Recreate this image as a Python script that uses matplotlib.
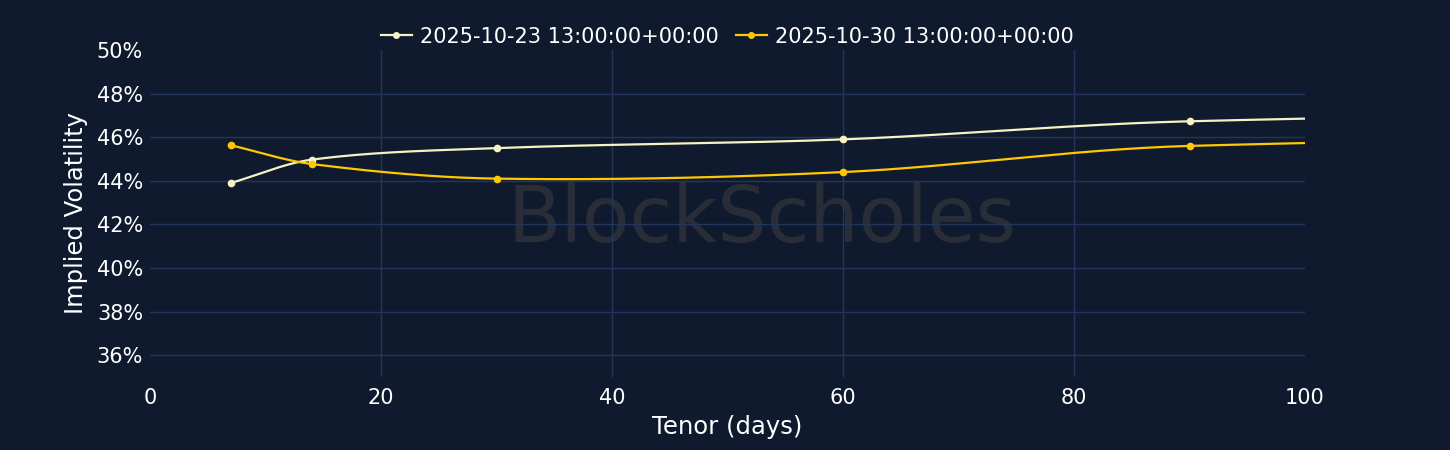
import numpy as np
import matplotlib
matplotlib.use("Agg")
import matplotlib.pyplot as plt
from matplotlib.ticker import FuncFormatter

# Data
tenors = [7, 14, 30, 60, 90, 180]
iv_1023 = [43.9, 44.97, 45.5, 45.9, 46.73, 47.5]
iv_1030 = [45.63, 44.77, 44.1, 44.4, 45.6, 46.2]
labels = ["2025-10-23 13:00:00+00:00", "2025-10-30 13:00:00+00:00"]
colors = ["#f5f3c1", "#ffc800"]

x_ticks = [0, 20, 40, 60, 80, 100]
y_ticks = [36, 38, 40, 42, 44, 46, 48, 50]


def smooth(x, y, n=400):
    x = np.asarray(x, float)
    y = np.asarray(y, float)
    m = np.zeros_like(y)
    m[0] = (y[1] - y[0]) / (x[1] - x[0])
    m[-1] = (y[-1] - y[-2]) / (x[-1] - x[-2])
    m[1:-1] = (y[2:] - y[:-2]) / (x[2:] - x[:-2])
    xs, ys = [], []
    for i in range(len(x) - 1):
        h = x[i + 1] - x[i]
        t = np.linspace(0, 1, n // (len(x) - 1))
        h00 = 2 * t**3 - 3 * t**2 + 1
        h10 = t**3 - 2 * t**2 + t
        h01 = -2 * t**3 + 3 * t**2
        h11 = t**3 - t**2
        xs.append(x[i] + t * h)
        ys.append(h00 * y[i] + h10 * h * m[i] + h01 * y[i + 1] + h11 * h * m[i + 1])
    return np.concatenate(xs), np.concatenate(ys)


bg = "#101a2e"
grid = "#22365c"

fig = plt.figure(figsize=(14.5, 4.5), dpi=100, facecolor=bg)
ax = fig.add_axes([150 / 1450, 1 - 377 / 450, (1305 - 150) / 1450, (377 - 50) / 450])
ax.set_facecolor(bg)

ax.text(0.53, 0.48, "BlockScholes", transform=ax.transAxes, ha="center", va="center",
        fontsize=56, color="#292d37", zorder=0)

ax.set_xlim(0, 100)
ax.set_ylim(35, 50)

for xv in x_ticks:
    if 0 < xv < 100:
        ax.axvline(xv, color=grid, lw=1, zorder=1)
for yv in y_ticks:
    if 35 < yv < 50:
        ax.axhline(yv, color=grid, lw=1, zorder=1)

for s, (vals, lab, c) in enumerate(zip([iv_1023, iv_1030], labels, colors)):
    xs, ys = smooth(tenors, vals)
    ax.plot(xs, ys, color=c, lw=1.6, zorder=3)
    ax.plot(tenors, vals, "o", color=c, ms=4.5, zorder=4)
    ax.plot([], [], "-o", color=c, lw=1.6, ms=4, label=lab)

ax.set_xticks(x_ticks)
ax.set_yticks(y_ticks)
ax.yaxis.set_major_formatter(FuncFormatter(lambda v, p: f"{v:.0f}%"))
for sp in ax.spines.values():
    sp.set_visible(False)
ax.tick_params(colors="white", labelsize=15, length=0)
ax.tick_params(axis="y", pad=5)
ax.tick_params(axis="x", pad=8)
ax.set_xlabel("Tenor (days)", color="white", fontsize=17.5, labelpad=5)
ax.set_ylabel("Implied Volatility", color="white", fontsize=17.5, labelpad=6)

leg = ax.legend(loc="lower center", bbox_to_anchor=(0.5, 0.985), ncol=2, frameon=False,
                fontsize=15, labelcolor="white", handlelength=1.5, handletextpad=0.4,
                columnspacing=0.8, borderaxespad=0)

fig.savefig("out.png", dpi=100, facecolor=bg)
